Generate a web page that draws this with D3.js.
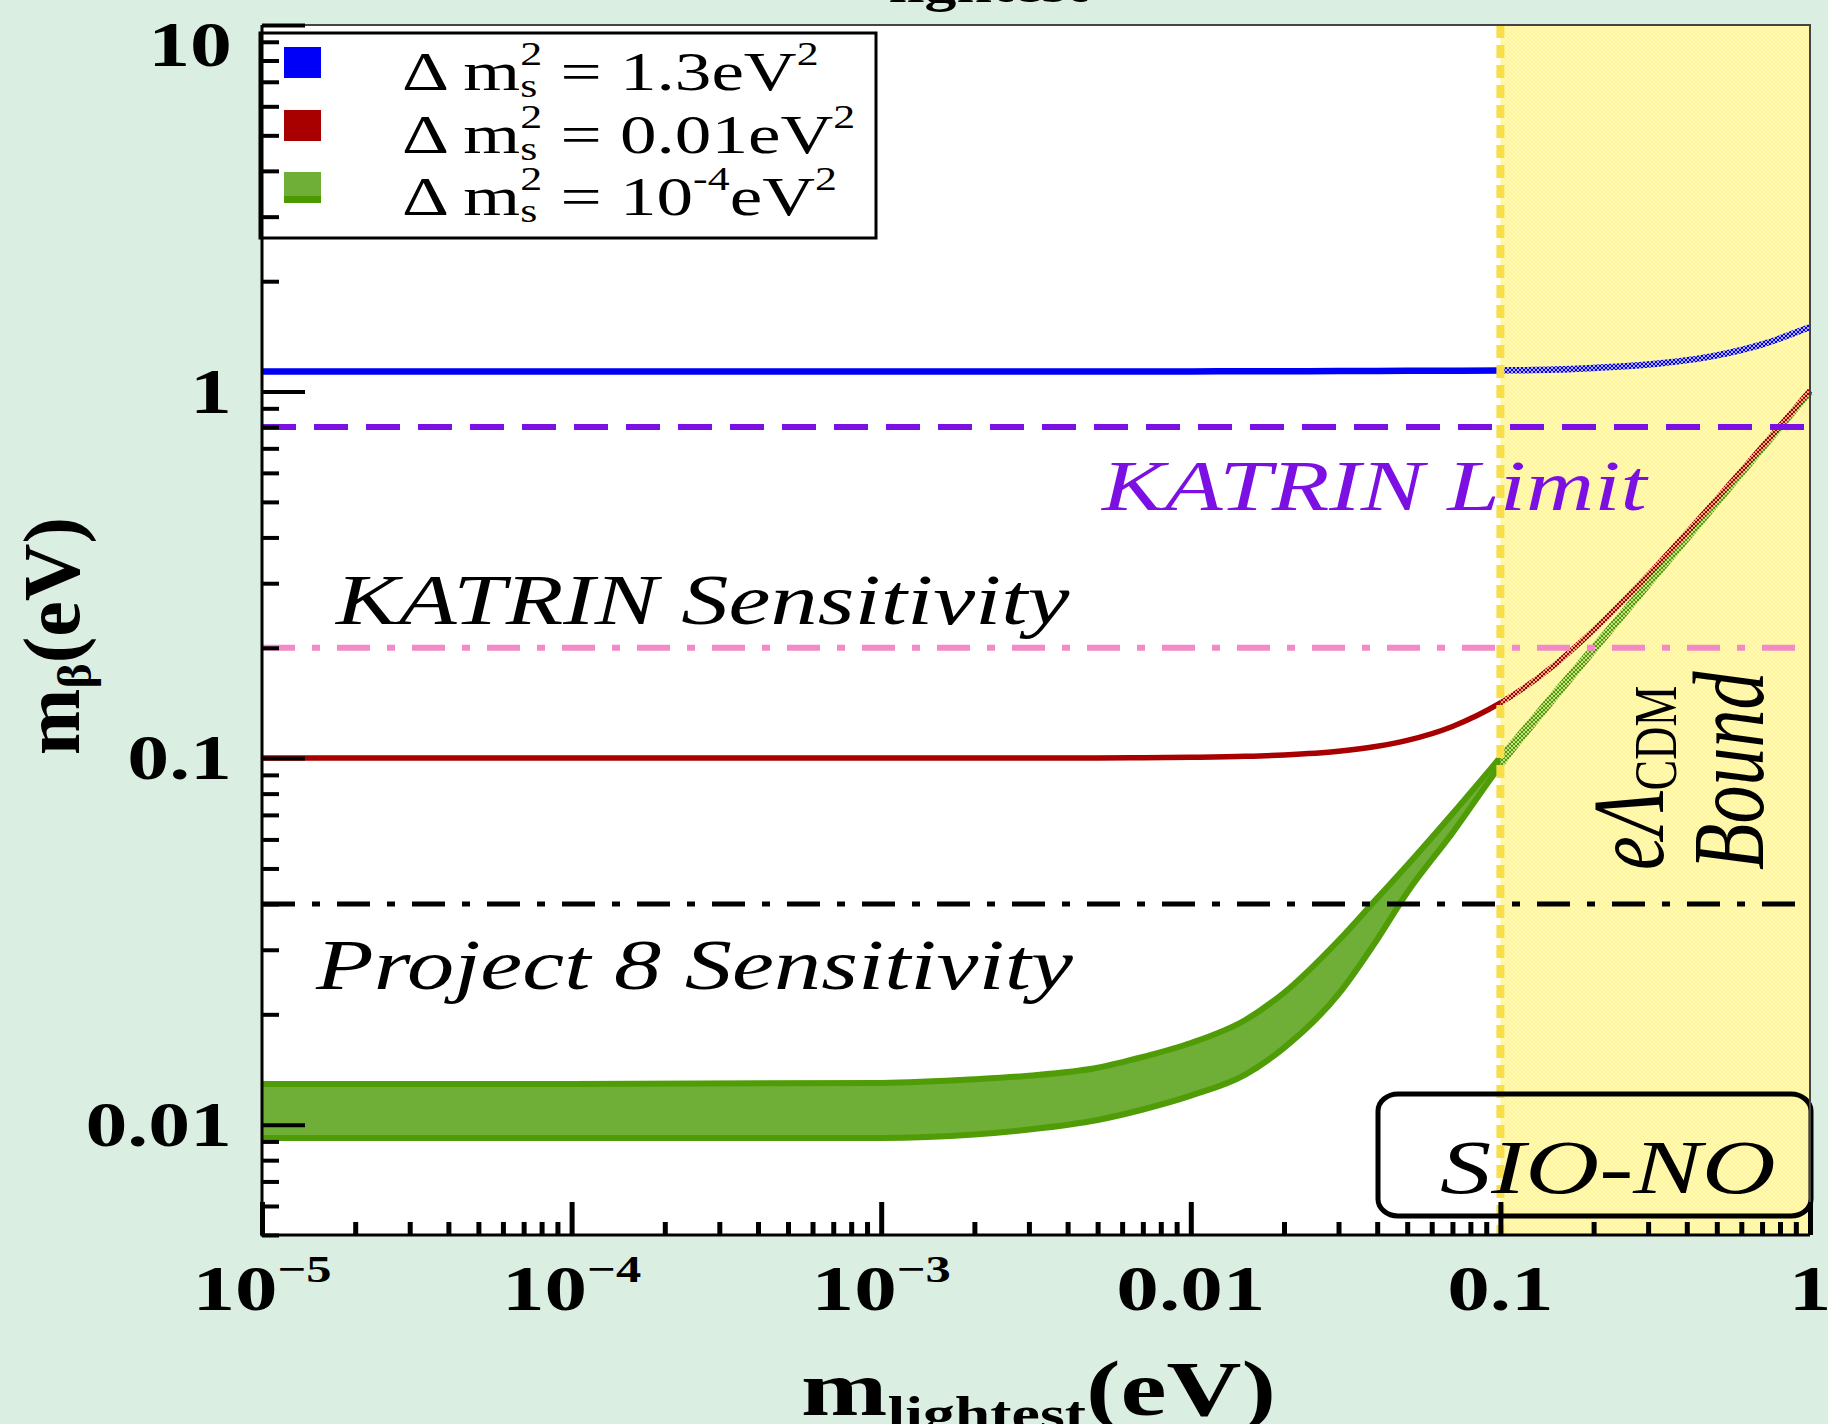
<!doctype html>
<html>
<head>
<meta charset="utf-8">
<title>m_beta vs m_lightest</title>
<script src="https://cdn.jsdelivr.net/npm/d3@7"></script>
<style>
  body { margin: 0; background: #daeee2; }
  svg { display: block; }
  text { font-family: "Liberation Serif", "Times New Roman", serif; }
</style>
</head>
<body>
<div id="app"></div>
<script>
// m_lightest samples (eV) and the m_beta values
const mLight  = [1e-5, 1e-4, 1e-3, 0.002, 0.003, 0.005, 0.007, 0.01, 0.015, 0.02, 0.03, 0.04, 0.05, 0.07, 0.1, 0.15, 0.2, 0.3, 0.5, 0.7, 1];
const mbBlue  = [1.135, 1.135, 1.135, 1.135, 1.135, 1.135, 1.135, 1.135, 1.136, 1.136, 1.137, 1.138, 1.139, 1.14, 1.142, 1.148, 1.16, 1.185, 1.255, 1.345, 1.5];
const mbRed   = [0.1, 0.1, 0.1, 0.1, 0.1, 0.1001, 0.1002, 0.1005, 0.1011, 0.102, 0.1044, 0.1077, 0.1118, 0.122, 0.1414, 0.18, 0.2236, 0.316, 0.51, 0.707, 1.005];
const mbGreenHi = [0.0129, 0.0129, 0.013, 0.0133, 0.0136, 0.0143, 0.0153, 0.0167, 0.0193, 0.0229, 0.0318, 0.0415, 0.051, 0.0705, 0.1005, 0.151, 0.201, 0.302, 0.503, 0.704, 1.005];
const mbGreenLo = [0.0092, 0.0092, 0.0092, 0.0094, 0.0097, 0.0103, 0.011, 0.012, 0.0137, 0.0162, 0.0227, 0.032, 0.043, 0.0625, 0.0955, 0.146, 0.196, 0.296, 0.495, 0.696, 0.995];

// horizontal bounds (eV)
const katrinLimit = 0.8;
const katrinSens = 0.2;
const project8Sens = 0.04;
const cosmoBound = 0.1;

const yTickValues = [0.01, 0.1, 1, 10];
const yTickLabels = ['0.01', '0.1', '1', '10'];
const xTickValues = [1e-5, 1e-4, 1e-3, 0.01, 0.1, 1];
const xTickLabels = [['10', '\u22125'], ['10', '\u22124'], ['10', '\u22123'], ['0.01', ''], ['0.1', ''], ['1', '']];

const legendNames = ['1.3', '0.01', '10-4'];
const legendColors = ['#0000f8', '#a80000', '#6fae37'];

const W = 1828, H = 1424;
const S = 1.33; // the figure was stretched sideways, glyphs too
const plot = { left: 262, right: 1810, top: 25, bottom: 1235 };

const svg = d3.select('#app').append('svg').attr('width', W).attr('height', H);

const defs = svg.append('defs');
const mesh = defs.append('pattern').attr('id', 'mesh')
  .attr('width', 4).attr('height', 4).attr('patternUnits', 'userSpaceOnUse');
mesh.append('path').attr('d', 'M0,0L4,4M4,0L0,4').attr('stroke', '#fffac0').attr('stroke-width', 0.7);

const x = d3.scaleLog().domain([1e-5, 1]).range([plot.left, plot.right]);
const y = d3.scaleLog().domain([0.005, 10]).range([plot.bottom, plot.top]);

svg.append('rect').attr('width', W).attr('height', H).attr('fill', '#daeee2');
svg.append('rect')
  .attr('x', plot.left).attr('y', plot.top)
  .attr('width', plot.right - plot.left).attr('height', plot.bottom - plot.top)
  .attr('fill', '#fff');
// excluded region
svg.append('rect')
  .attr('x', x(cosmoBound)).attr('y', plot.top)
  .attr('width', plot.right - x(cosmoBound)).attr('height', plot.bottom - plot.top)
  .attr('fill', '#fff59b');

// text helper: parts = [{t, size, shift, dx, style}]
function label(parent, px, py, parts, o) {
  o = o || {};
  const sx = o.sx || S;
  let tr = `translate(${px},${py}) scale(${sx},1)`;
  if (o.rotate) tr += ` rotate(${o.rotate})`;
  const t = parent.append('text')
    .attr('transform', tr)
    .attr('text-anchor', o.anchor || 'start')
    .attr('font-size', o.size)
    .attr('font-weight', o.weight || 'normal')
    .attr('font-style', o.style || 'normal')
    .attr('fill', o.fill || '#000');
  let prev = 0;
  for (const p of parts) {
    const sp = t.append('tspan').text(p.t);
    const sh = p.shift || 0;
    if (sh !== prev) sp.attr('dy', sh - prev);
    prev = sh;
    if (p.dx) sp.attr('dx', p.dx);
    if (p.size) sp.attr('font-size', p.size);
    if (p.style) sp.attr('font-style', p.style);
  }
  return t;
}

const curves = svg.append('g');
const pts = arr => arr.map((v, i) => [mLight[i], v]);

const band = mLight.map((m, i) => ({ m, lo: mbGreenLo[i], hi: mbGreenHi[i] }));
curves.append('path')
  .attr('d', d3.area().x(d => x(d.m)).y0(d => y(d.lo)).y1(d => y(d.hi)).curve(d3.curveMonotoneX)(band))
  .attr('fill', '#6fae37');
const line = d3.line().x(d => x(d[0])).y(d => y(d[1])).curve(d3.curveMonotoneX);
for (const arr of [mbGreenHi, mbGreenLo]) {
  curves.append('path').attr('d', line(pts(arr)))
    .attr('fill', 'none').attr('stroke', '#4f9c06').attr('stroke-width', 6);
}
curves.append('path').attr('d', line(pts(mbRed)))
  .attr('fill', 'none').attr('stroke', '#a80000').attr('stroke-width', 5.5);
curves.append('path').attr('d', line(pts(mbBlue)))
  .attr('fill', 'none').attr('stroke', '#0000f8').attr('stroke-width', 6.5);

// mesh laid over the curves inside the excluded region
svg.append('rect')
  .attr('x', x(cosmoBound)).attr('y', plot.top)
  .attr('width', plot.right - x(cosmoBound)).attr('height', plot.bottom - plot.top)
  .attr('fill', 'url(#mesh)');

svg.append('line')
  .attr('x1', plot.left).attr('x2', plot.right).attr('y1', y(katrinLimit)).attr('y2', y(katrinLimit))
  .attr('stroke', '#7c10e2').attr('stroke-width', 6).attr('stroke-dasharray', '34,18');
svg.append('line')
  .attr('x1', plot.left).attr('x2', plot.right).attr('y1', y(katrinSens)).attr('y2', y(katrinSens))
  .attr('stroke', '#f28ac8').attr('stroke-width', 6).attr('stroke-dasharray', '33,17,8,17');
svg.append('line')
  .attr('x1', plot.left).attr('x2', plot.right).attr('y1', y(project8Sens)).attr('y2', y(project8Sens))
  .attr('stroke', '#000').attr('stroke-width', 5).attr('stroke-dasharray', '33,17,8,17');
svg.append('line')
  .attr('x1', x(cosmoBound)).attr('x2', x(cosmoBound)).attr('y1', plot.top).attr('y2', plot.bottom)
  .attr('stroke', '#f8df4a').attr('stroke-width', 8).attr('stroke-dasharray', '13,7');

// annotations
label(svg, 1102, 510, [{ t: 'KATRIN Limit' }], { size: 71, style: 'italic', fill: '#7c10e2' });
label(svg, 336, 624, [{ t: 'KATRIN Sensitivity' }], { size: 71, style: 'italic' });
label(svg, 316, 989, [{ t: 'Project 8 Sensitivity' }], { size: 71, style: 'italic' });
label(svg, 1663, 870, [{ t: 'e\u039B' }, { t: 'CDM', size: 46, shift: 10, style: 'normal' }],
  { size: 76, style: 'italic', rotate: -90 });
label(svg, 1763, 870, [{ t: 'Bound' }], { size: 76, style: 'italic', rotate: -90 });

svg.append('rect')
  .attr('x', 1378).attr('y', 1094).attr('width', 433).attr('height', 122)
  .attr('rx', 20).attr('ry', 17)
  .attr('fill', 'none').attr('stroke', '#000').attr('stroke-width', 5);
label(svg, 1440, 1193, [{ t: 'SIO-NO' }], { size: 77, style: 'italic' });

// legend
const lg = svg.append('g');
lg.append('rect').attr('x', 260).attr('y', 33).attr('width', 616).attr('height', 205)
  .attr('fill', '#fff').attr('stroke', '#000').attr('stroke-width', 3);
const rowY = [90, 153, 215];
legendNames.forEach((nm, i) => {
  lg.append('rect').attr('x', 284).attr('y', rowY[i] - 43).attr('width', 37).attr('height', 31)
    .attr('fill', legendColors[i]);
  if (i === 2) {
    lg.append('rect').attr('x', 284).attr('y', rowY[i] - 19).attr('width', 37).attr('height', 7)
      .attr('fill', '#4c9a00');
  }
  const parts = [{ t: '\u0394 m' }, { t: 's', size: 33, shift: 7 }, { t: '2', size: 33, shift: -25, dx: -12.8 }];
  if (nm === '10-4') {
    parts.push({ t: ' = 10' }, { t: '-4', size: 33, shift: -25 }, { t: 'eV' }, { t: '2', size: 33, shift: -25 });
  } else {
    parts.push({ t: ' = ' + nm + 'eV' }, { t: '2', size: 33, shift: -25 });
  }
  label(lg, 402, rowY[i], parts, { size: 55 });
});

// axes frame and ticks
const ax = svg.append('g');
ax.append('path')
  .attr('d', `M${plot.left},${plot.top}H${plot.right}V${plot.bottom}`)
  .attr('fill', 'none').attr('stroke', '#444').attr('stroke-width', 2);

const yMinor = y.ticks().filter(v => !yTickValues.some(t => Math.abs(t - v) / t < 1e-6));
const xMinor = x.ticks().filter(v => !xTickValues.some(t => Math.abs(t - v) / t < 1e-6));

const yAx = ax.append('g').attr('transform', `translate(${plot.left},0)`);
yAx.append('g').call(d3.axisRight(y).tickValues(yMinor).tickSize(17).tickSizeOuter(0).tickFormat(''));
yAx.append('g').call(d3.axisRight(y).tickValues(yTickValues).tickSize(43).tickSizeOuter(0).tickFormat(''));
yAx.selectAll('.tick line').attr('stroke', '#000').attr('stroke-width', 4);

const xAx = ax.append('g').attr('transform', `translate(0,${plot.bottom})`);
xAx.append('g').call(d3.axisTop(x).tickValues(xMinor).tickSize(13).tickSizeOuter(0).tickFormat(''));
xAx.append('g').call(d3.axisTop(x).tickValues(xTickValues).tickSize(33).tickSizeOuter(0).tickFormat(''));
xAx.selectAll('.tick line').attr('stroke', '#000').attr('stroke-width', 5);
ax.selectAll('.domain').remove();

ax.append('path')
  .attr('d', `M${plot.left},${plot.top}V${plot.bottom}H${plot.right}`)
  .attr('fill', 'none').attr('stroke', '#000').attr('stroke-width', 3);

// tick labels
yTickValues.forEach((v, i) => {
  label(svg, 232, Math.max(y(v), 45) + 21, [{ t: yTickLabels[i] }], { size: 63, weight: 'bold', anchor: 'end' });
});
xTickValues.forEach((v, i) => {
  const [base, ex] = xTickLabels[i];
  const parts = [{ t: base }];
  if (ex) parts.push({ t: ex, size: 38, shift: -28 });
  label(svg, x(v), 1310, parts, { size: 64, weight: 'bold', anchor: 'middle' });
});

// axis titles
label(svg, 79, 636, [{ t: 'm' }, { t: '\u03B2', size: 48, shift: 12 }, { t: '(eV)', shift: 0 }],
  { size: 80, weight: 'bold', anchor: 'middle', rotate: -90, sx: 1 });
label(svg, 801, 1415, [{ t: 'm' }, { t: 'lightest', size: 48, shift: 15 }, { t: '(eV)', shift: 0 }],
  { size: 78, weight: 'bold' });
// the panel above leaves the foot of its axis subscript at the top edge
label(svg, 889, 2, [{ t: 'lightest' }], { size: 48, weight: 'bold' });
</script>
</body>
</html>
